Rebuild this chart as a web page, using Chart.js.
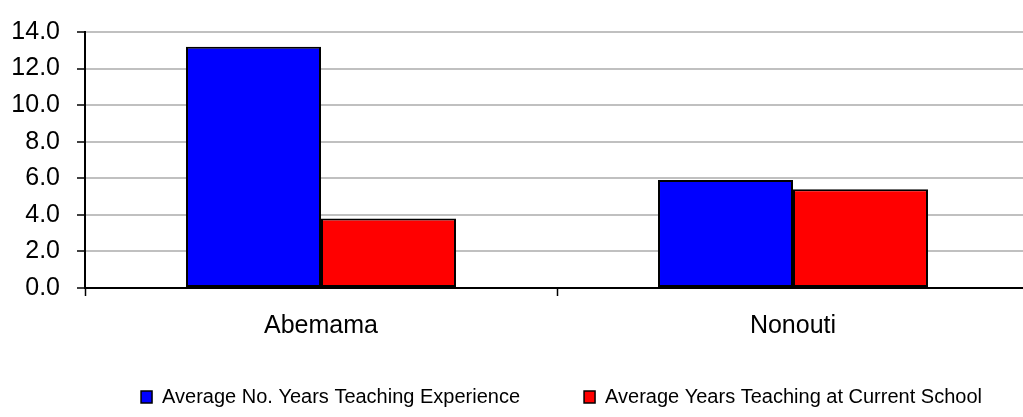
<!DOCTYPE html>
<html>
<head>
<meta charset="utf-8">
<script src="https://cdn.jsdelivr.net/npm/chart.js@4/dist/chart.umd.min.js"></script>
<style>
  html, body { margin: 0; padding: 0; background: #fff; overflow: hidden; }
  #wrap { position: relative; width: 1029px; height: 417px; }
</style>
</head>
<body>
<div id="wrap"><canvas id="chart"></canvas></div>
<script>
// Island categories and the two averages (years)
const categories = ['Abemama', 'Nonouti'];
const teachingExperience = [13.2, 5.9];
const currentSchool = [3.8, 5.4];
const seriesNames = ['Average No. Years Teaching Experience', 'Average Years Teaching at Current School'];

const FONT = "'Liberation Sans', Arial, sans-serif";

// Moves the bottom legend a little (right and up) after layout;
// its bottom edge stays at the canvas bottom so nothing is clipped
const legendShift = {
  id: 'legendShift',
  afterLayout(chart) {
    const lg = chart.legend;
    if (!lg) return;
    const dx = 47;
    const dy = -25;
    lg.left += dx;
    lg.right += dx;
    lg.top += dy;
    lg.bottom = chart.height;
  }
};

new Chart(document.getElementById('chart'), {
  type: 'bar',
  data: {
    labels: categories,
    datasets: [
      {
        label: seriesNames[0],
        data: teachingExperience,
        backgroundColor: '#0000ff',
        borderColor: '#000000',
        borderWidth: 2,
        borderSkipped: false
      },
      {
        label: seriesNames[1],
        data: currentSchool,
        backgroundColor: '#ff0000',
        borderColor: '#000000',
        borderWidth: 2,
        borderSkipped: false
      }
    ]
  },
  options: {
    responsive: true,
    maintainAspectRatio: false,
    animation: false,
    devicePixelRatio: 1,
    datasets: {
      bar: { categoryPercentage: 0.572, barPercentage: 1.0 }
    },
    layout: { padding: { top: 0, right: 0, left: 0, bottom: 0 } },
    plugins: {
      tooltip: { enabled: false },
      legend: {
        position: 'bottom',
        align: 'center',
        maxHeight: 69,
        labels: {
          color: '#000',
          font: { family: FONT, size: 20 },
          boxWidth: 11,
          boxHeight: 12,
          padding: 64,
          useBorderRadius: false,
          generateLabels(chart) {
            return chart.data.datasets.map((ds, i) => ({
              text: ds.label,
              fillStyle: ds.backgroundColor,
              strokeStyle: '#000',
              lineWidth: 1.5,
              datasetIndex: i,
              hidden: false
            }));
          }
        }
      }
    },
    scales: {
      x: {
        offset: true,
        border: { display: true, color: '#000', width: 2 },
        grid: {
          display: true,
          offset: true,
          drawOnChartArea: false,
          drawTicks: true,
          tickLength: 8,
          tickColor: '#000',
          tickWidth: 1.5
        },
        ticks: {
          color: '#000',
          font: { family: FONT, size: 25 },
          padding: 15
        },
        afterFit(scale) { scale.height = 60; }
      },
      y: {
        min: 0,
        max: 14,
        border: { display: true, color: '#000', width: 2 },
        grid: {
          color: '#c0c0c0',
          lineWidth: 2,
          drawTicks: true,
          tickLength: 8,
          tickColor: '#000',
          tickWidth: 1.5
        },
        ticks: {
          stepSize: 2,
          color: '#000',
          font: { family: FONT, size: 25 },
          padding: 17,
          callback: (v) => Number(v).toFixed(1)
        },
        afterFit(scale) { scale.width = 85; }
      }
    }
  },
  plugins: [legendShift]
});
</script>
</body>
</html>
